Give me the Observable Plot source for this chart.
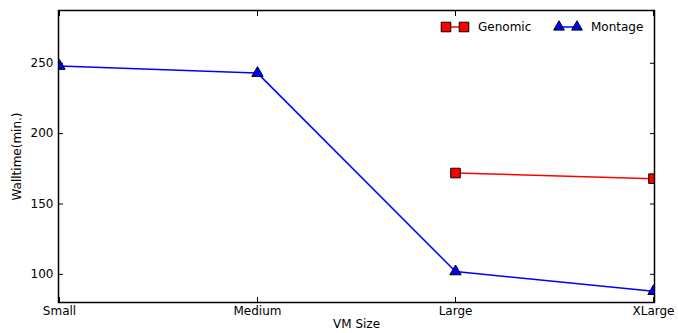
<!DOCTYPE html>
<html>
<head>
<meta charset="utf-8">
<script src="https://cdn.jsdelivr.net/npm/d3@7"></script>
<script src="https://cdn.jsdelivr.net/npm/@observablehq/plot@0.6"></script>
<style>
  html, body { margin: 0; padding: 0; background: #fff; }
  #wrap { position: relative; width: 678px; height: 333px; font-family: "DejaVu Sans", sans-serif; }
  #legend { position: absolute; left: 0; top: 0; pointer-events: none; }
</style>
</head>
<body>
<div id="wrap"></div>
<script>
const sizes = ["Small", "Medium", "Large", "XLarge"];
const montage = [248, 243, 102, 88];
const genomic = [null, null, 172, 168];
const yTicks = [100, 150, 200, 250];
const yLabel = "Walltime(min.)";
const xLabel = "VM Size";

const montageData = sizes.map((s, i) => ({size: s, value: montage[i]}));
const genomicData = sizes.map((s, i) => ({size: s, value: genomic[i]})).filter(d => d.value != null);

const chart = Plot.plot({
  width: 678,
  height: 333,
  marginLeft: 58,
  marginRight: 24,
  marginTop: 10,
  marginBottom: 31,
  style: {fontFamily: "DejaVu Sans, sans-serif", fontSize: "12px", color: "black", background: "white"},
  x: {type: "point", domain: sizes, padding: 0},
  y: {domain: [80, 287.5]},
  marks: [
    Plot.axisY({anchor: "left", ticks: yTicks, tickSize: -5, tickPadding: 10, label: null}),
    Plot.axisY({anchor: "right", ticks: yTicks, tickSize: -5, tickFormat: () => "", label: null}),
    Plot.axisX({anchor: "bottom", tickSize: -5, tickPadding: 9, label: null}),
    Plot.axisX({anchor: "top", tickSize: -5, tickFormat: () => "", label: null}),
    Plot.text([yLabel], {frameAnchor: "left", text: d => d, rotate: -90, textAnchor: "middle", dx: -41, fill: "black"}),
    Plot.text([xLabel], {frameAnchor: "bottom", text: d => d, dy: 25, fill: "black"}),
    Plot.line(montageData, {x: "size", y: "value", stroke: "#0000ff", strokeWidth: 1.5}),
    Plot.line(genomicData, {x: "size", y: "value", stroke: "#ff0000", strokeWidth: 1.5}),
    Plot.dot(montageData, {x: "size", y: "value", symbol: "triangle", r: 4.2, fill: "#0000ff", stroke: "black", strokeWidth: 1, clip: true}),
    Plot.dot(genomicData, {x: "size", y: "value", symbol: "square", r: 5.4, fill: "#ff0000", stroke: "black", strokeWidth: 1, clip: true}),
    Plot.frame({stroke: "black", strokeWidth: 1.5})
  ]
});
const wrap = document.getElementById("wrap");
wrap.appendChild(chart);

// legend overlay
const legendItems = [
  {label: "Genomic", color: "#ff0000", symbol: d3.symbolSquare, x: 441},
  {label: "Montage", color: "#0000ff", symbol: d3.symbolTriangle, x: 554}
];
const lg = d3.select(wrap).append("svg").attr("id", "legend").attr("width", 678).attr("height", 333);
for (const it of legendItems) {
  const g = lg.append("g").attr("transform", `translate(${it.x},27)`);
  g.append("line").attr("x1", 5).attr("x2", 23).attr("y1", 0).attr("y2", 0).attr("stroke", it.color).attr("stroke-width", 1.5);
  const area = it.symbol === d3.symbolSquare ? 92 : 50;
  for (const cx of [5, 23]) {
    g.append("path").attr("d", d3.symbol(it.symbol, area)()).attr("transform", `translate(${cx},0)`)
      .attr("fill", it.color).attr("stroke", "black").attr("stroke-width", 1);
  }
  g.append("text").attr("x", 37).attr("y", 0).attr("dy", "0.35em")
    .attr("font-family", "DejaVu Sans, sans-serif").attr("font-size", 12).attr("fill", "black").text(it.label);
}
</script>
</body>
</html>
